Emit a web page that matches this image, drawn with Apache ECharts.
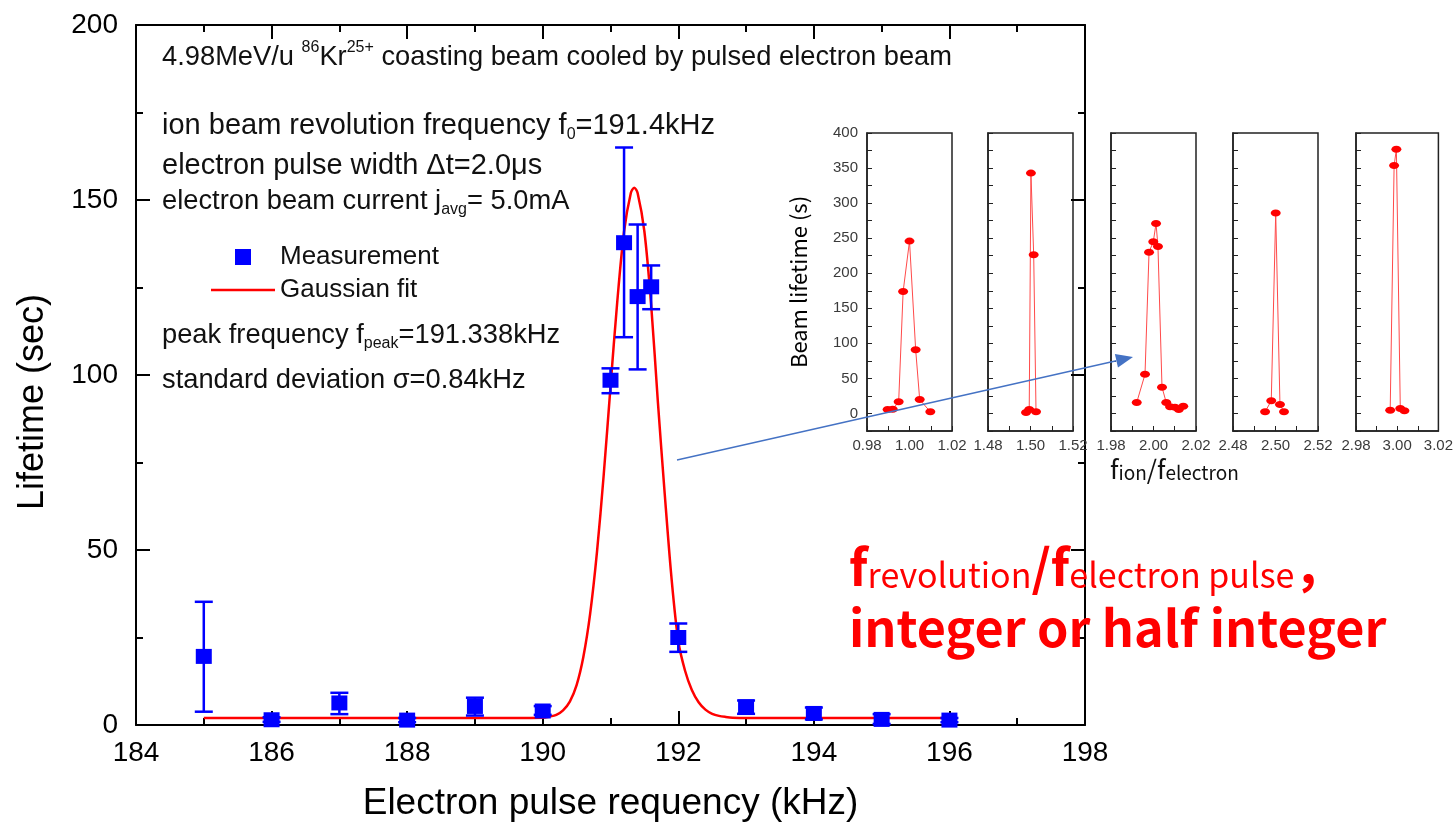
<!DOCTYPE html>
<html>
<head>
<meta charset="utf-8">
<script src="https://cdn.jsdelivr.net/npm/echarts@6/dist/echarts.min.js"></script>
<style>html,body{margin:0;padding:0;background:#fff}#c{width:1456px;height:832px}</style>
</head>
<body>
<div id="c"></div>
<script>
// ---------------- data ----------------
const measX    = [185, 186, 187, 188, 189, 190, 191, 191.2, 191.4, 191.6, 192, 193, 194, 195, 196];
const measY    = [19.6, 1.5, 6.3, 1.4, 5.3, 4.0, 98.5, 137.8, 122.4, 125.2, 25.0, 5.2, 3.3, 1.6, 1.4];
const errLow   = [3.8, 0.9, 3.1, 0.8, 2.7, 2.9, 94.8, 110.8, 101.6, 118.8, 20.9, 3.2, 1.6, 0.3, 0.8];
const errHigh  = [35.2, 2.2, 9.2, 2.0, 7.8, 5.4, 101.9, 165.0, 143.0, 131.3, 29.0, 7.0, 5.0, 3.1, 2.0];

const fitX = [185, 187, 189, 190, 190.1, 190.2, 190.3, 190.4, 190.5, 190.6, 190.7, 190.8, 190.9, 191.0, 191.1, 191.2, 191.3, 191.35, 191.4, 191.5, 191.6, 191.7, 191.8, 191.9, 192.0, 192.1, 192.2, 192.3, 192.4, 192.5, 192.6, 192.7, 192.8, 193, 194, 195, 196];
const fitY = [2.0, 2.0, 2.0, 2.1, 2.4, 2.9, 4.2, 6.7, 11.4, 19.5, 31.8, 49.3, 71.5, 96.6, 121, 141, 152, 153.5, 152, 141, 120, 92, 66, 42, 24, 15.5, 10, 6.5, 4.4, 3.2, 2.6, 2.3, 2.1, 2.0, 2.0, 2.0, 2.0];

const xTicks = [184, 186, 188, 190, 192, 194, 196, 198];
const yTicks = [0, 50, 100, 150, 200];

// inset: lifetime vs f_ion/f_electron
const insetCenters = [1.0, 1.5, 2.0, 2.5, 3.0];
const inset1X = [0.9897, 0.9921, 0.9949, 0.997, 1.0, 1.0029, 1.0048, 1.0098];
const inset1Y = [5.7, 6.0, 16.6, 174, 245.8, 91, 19.8, 2.4];
const inset2X = [1.4979, 1.4994, 1.5002, 1.5015, 1.5026];
const inset2Y = [1.4, 5.7, 342.8, 226.5, 2.4];
const inset3X = [1.9921, 1.996, 1.9979, 1.9999, 2.0012, 2.0021, 2.004, 2.006, 2.0078, 2.0101, 2.0119, 2.014];
const inset3Y = [15.6, 55.8, 230, 245, 271, 238, 37.4, 15.6, 9.5, 9.0, 5.7, 10.4];
const inset4X = [2.4951, 2.498, 2.5001, 2.5021, 2.504];
const inset4Y = [2.4, 18, 286, 12.8, 2.4];
const inset5X = [2.9966, 2.9985, 2.9996, 3.0015, 3.0035];
const inset5Y = [4.7, 353.6, 376.8, 7.0, 3.8];
const insetXs = [inset1X, inset2X, inset3X, inset4X, inset5X];
const insetYs = [inset1Y, inset2Y, inset3Y, inset4Y, inset5Y];

// ---------------- chart ----------------
const zip = (a, b) => a.map((v, i) => [v, b[i]]);
const FONT = '"Liberation Sans", Arial, Helvetica, sans-serif';
const CJK = '"Noto Sans CJK SC", "Noto Sans", sans-serif';
const BLUE = '#0000ff';
const RED = '#ff0000';

const insetLefts = [867, 988, 1111, 1233, 1356];
const grids = [{ left: 136, top: 25, width: 949, height: 700, show: false }];
insetLefts.forEach(l => grids.push({
  left: l, top: 133, width: 85, height: 298, show: true,
  backgroundColor: '#fff', borderColor: '#222', borderWidth: 1.5
}));

const mainAxisLine = { show: true, onZero: false, lineStyle: { color: '#000', width: 2 } };
const mainTick = { show: true, inside: true, length: 14, lineStyle: { color: '#000', width: 2 } };
const mainMinor = { show: true, splitNumber: 2, length: 7, lineStyle: { color: '#000', width: 2 } };

const xAxes = [
  {
    type: 'value', gridIndex: 0, position: 'bottom',
    min: xTicks[0], max: xTicks[xTicks.length - 1], interval: xTicks[1] - xTicks[0],
    axisLine: mainAxisLine, axisTick: mainTick, minorTick: mainMinor,
    splitLine: { show: false },
    axisLabel: { fontSize: 28, color: '#000', fontFamily: FONT, margin: 14 },
    name: 'Electron pulse requency (kHz)', nameLocation: 'middle', nameGap: 60,
    nameTextStyle: { fontSize: 37, color: '#000', fontFamily: FONT }
  },
  {
    type: 'value', gridIndex: 0, position: 'top',
    min: xTicks[0], max: xTicks[xTicks.length - 1], interval: xTicks[1] - xTicks[0],
    axisLine: mainAxisLine, axisTick: mainTick, minorTick: mainMinor,
    splitLine: { show: false }, axisLabel: { show: false }
  }
];
const yAxes = [
  {
    type: 'value', gridIndex: 0, position: 'left',
    min: yTicks[0], max: yTicks[yTicks.length - 1], interval: yTicks[1] - yTicks[0],
    axisLine: mainAxisLine, axisTick: mainTick, minorTick: mainMinor,
    splitLine: { show: false },
    axisLabel: { fontSize: 28, color: '#000', fontFamily: FONT, margin: 18 }
  },
  {
    type: 'value', gridIndex: 0, position: 'right',
    min: yTicks[0], max: yTicks[yTicks.length - 1], interval: yTicks[1] - yTicks[0],
    axisLine: mainAxisLine, axisTick: mainTick, minorTick: mainMinor,
    splitLine: { show: false }, axisLabel: { show: false }
  }
];

insetCenters.forEach((c, i) => {
  xAxes.push({
    type: 'value', gridIndex: i + 1, min: +(c - 0.02).toFixed(2), max: +(c + 0.02).toFixed(2), interval: 0.01,
    axisLine: { show: true, onZero: false, lineStyle: { color: '#222', width: 1.5 } },
    axisTick: { show: true, inside: true, length: 5, lineStyle: { color: '#222', width: 1 } },
    splitLine: { show: false },
    axisLabel: {
      fontSize: 15, color: '#3a3a3a', fontFamily: FONT, margin: 7,
      showMinLabel: true, showMaxLabel: true,
      formatter: v => { const r = Math.round(v * 100); return r % 2 === 0 ? (r / 100).toFixed(2) : ''; }
    }
  });
  yAxes.push({
    type: 'value', gridIndex: i + 1, min: -25, max: 400, interval: 25,
    axisLine: { show: true, onZero: false, lineStyle: { color: '#222', width: 1.5 } },
    axisTick: { show: true, inside: true, length: 5, lineStyle: { color: '#222', width: 1 } },
    splitLine: { show: false },
    axisLabel: {
      show: i === 0, fontSize: 15, color: '#3a3a3a', fontFamily: FONT, margin: 9,
      formatter: v => (v >= 0 && v % 50 === 0) ? String(v) : ''
    },
    name: i === 0 ? 'Beam lifetime (s)' : '', nameLocation: 'middle', nameGap: 57,
    nameTextStyle: { fontSize: 22, color: '#000', fontFamily: CJK }
  });
});

const series = [
  {
    name: 'Gaussian fit', type: 'line', xAxisIndex: 0, yAxisIndex: 0,
    data: zip(fitX, fitY), showSymbol: false, symbol: 'none', smooth: 0.3,
    lineStyle: { color: RED, width: 2.5 }, itemStyle: { color: RED }, z: 3
  },
  {
    name: 'err', type: 'custom', xAxisIndex: 0, yAxisIndex: 0,
    data: measX.map((x, i) => [x, errLow[i], errHigh[i]]),
    encode: { x: 0, y: [1, 2] }, z: 4,
    renderItem: (params, api) => {
      const x = api.value(0);
      const top = api.coord([x, api.value(2)]);
      const bot = api.coord([x, api.value(1)]);
      const hw = 9;
      const st = { stroke: BLUE, lineWidth: 2.5 };
      return {
        type: 'group', children: [
          { type: 'line', shape: { x1: top[0], y1: top[1], x2: bot[0], y2: bot[1] }, style: st },
          { type: 'line', shape: { x1: top[0] - hw, y1: top[1], x2: top[0] + hw, y2: top[1] }, style: st },
          { type: 'line', shape: { x1: bot[0] - hw, y1: bot[1], x2: bot[0] + hw, y2: bot[1] }, style: st }
        ]
      };
    }
  },
  {
    name: 'Measurement', type: 'scatter', xAxisIndex: 0, yAxisIndex: 0,
    data: zip(measX, measY), symbol: 'rect', symbolSize: [16, 15],
    itemStyle: { color: BLUE, opacity: 1 }, z: 5
  }
];
insetXs.forEach((xs, i) => series.push({
  name: 'inset' + (i + 1), type: 'line', xAxisIndex: i + 2, yAxisIndex: i + 2,
  data: zip(xs, insetYs[i]), symbol: 'circle', symbolSize: [10, 7], showSymbol: true,
  lineStyle: { color: '#ff4a4a', width: 1 }, itemStyle: { color: RED, opacity: 1 }, z: 3
}));

// arrow geometry
const A0 = [677, 460], A1 = [1133, 357];
const dx = A1[0] - A0[0], dy = A1[1] - A0[1], dl = Math.hypot(dx, dy);
const ux = dx / dl, uy = dy / dl, nx = -uy, ny = ux;
const hl = 17, hw2 = 7;
const bx = A1[0] - ux * hl, by = A1[1] - uy * hl;

const annStyle = (text, y, fs) => ({
  type: 'text', x: 162, y: y, z: 20,
  style: {
    text: text, fontSize: fs, fontFamily: FONT, fill: '#111', lineHeight: 34, verticalAlign: 'middle', align: 'left',
    rich: {
      sup: { fontSize: 16, fontFamily: FONT, fill: '#111', lineHeight: 23, verticalAlign: 'top' },
      sub: { fontSize: 16, fontFamily: FONT, fill: '#111', lineHeight: 7, verticalAlign: 'bottom' }
    }
  }
});

const option = {
  animation: false,
  backgroundColor: '#fff',
  grid: grids,
  xAxis: xAxes,
  yAxis: yAxes,
  legend: {
    left: 206, top: 236, orient: 'vertical', itemGap: 1,
    itemWidth: 64, itemHeight: 16, selectedMode: false,
    textStyle: { fontSize: 26, color: '#111', fontFamily: FONT, lineHeight: 32 },
    data: [
      { name: 'Measurement', icon: 'path://M0,0L10,0L10,10L0,10Z', itemStyle: { color: BLUE, opacity: 1 } },
      { name: 'Gaussian fit', icon: 'path://M0,0L64,0L64,2.5L0,2.5Z' }
    ]
  },
  series: series,
  graphic: [
    annStyle('4.98MeV/u {sup|86}Kr{sup|25+} coasting beam cooled by pulsed electron beam', 57, 27.3),
    annStyle('ion beam revolution frequency f{sub|0}=191.4kHz', 126, 29),
    annStyle('electron pulse width Δt=2.0μs', 166, 29),
    annStyle('electron beam current j{sub|avg}= 5.0mA', 201, 27.3),
    annStyle('peak frequency f{sub|peak}=191.338kHz', 335, 27.3),
    annStyle('standard deviation σ=0.84kHz', 380, 27.3),
    {
      type: 'text', x: 33, y: 402, rotation: Math.PI / 2, z: 20,
      style: { text: 'Lifetime (sec)', fontSize: 36, fontFamily: FONT, fill: '#000', align: 'center', verticalAlign: 'middle' }
    },
    {
      type: 'text', x: 849, y: 562, z: 20,
      style: {
        text: '{b|f}{s|revolution}{b|/f}{s|electron pulse}{b|，}',
        verticalAlign: 'middle', align: 'left', fill: RED,
        rich: {
          b: { fontSize: 50, fontWeight: 'bold', fontFamily: CJK, fill: RED, lineHeight: 60, verticalAlign: 'bottom' },
          s: { fontSize: 34, fontWeight: 'normal', fontFamily: CJK, fill: RED, lineHeight: 25, verticalAlign: 'bottom' }
        }
      }
    },
    {
      type: 'text', x: 849, y: 628, z: 20,
      style: { text: 'integer or half integer', fontSize: 50.3, fontWeight: 'bold', fontFamily: CJK, fill: RED, verticalAlign: 'middle', align: 'left' }
    },
    {
      type: 'text', x: 1110, y: 466, z: 20,
      style: {
        text: '{b|f}{s|ion}{b|/f}{s|electron}', verticalAlign: 'middle', align: 'left',
        rich: {
          b: { fontSize: 26, fontFamily: CJK, fill: '#111', lineHeight: 32, verticalAlign: 'bottom' },
          s: { fontSize: 19, fontFamily: CJK, fill: '#111', lineHeight: 12, verticalAlign: 'bottom' }
        }
      }
    },
    {
      type: 'line', z: 30,
      shape: { x1: A0[0], y1: A0[1], x2: bx, y2: by },
      style: { stroke: '#4472c4', lineWidth: 1.3 }
    },
    {
      type: 'polygon', z: 30,
      shape: { points: [[A1[0], A1[1]], [bx + nx * hw2, by + ny * hw2], [bx - nx * hw2, by - ny * hw2]] },
      style: { fill: '#4472c4' }
    }
  ]
};

const chart = echarts.init(document.getElementById('c'), null, { renderer: 'canvas' });
chart.setOption(option);
</script>
</body>
</html>
